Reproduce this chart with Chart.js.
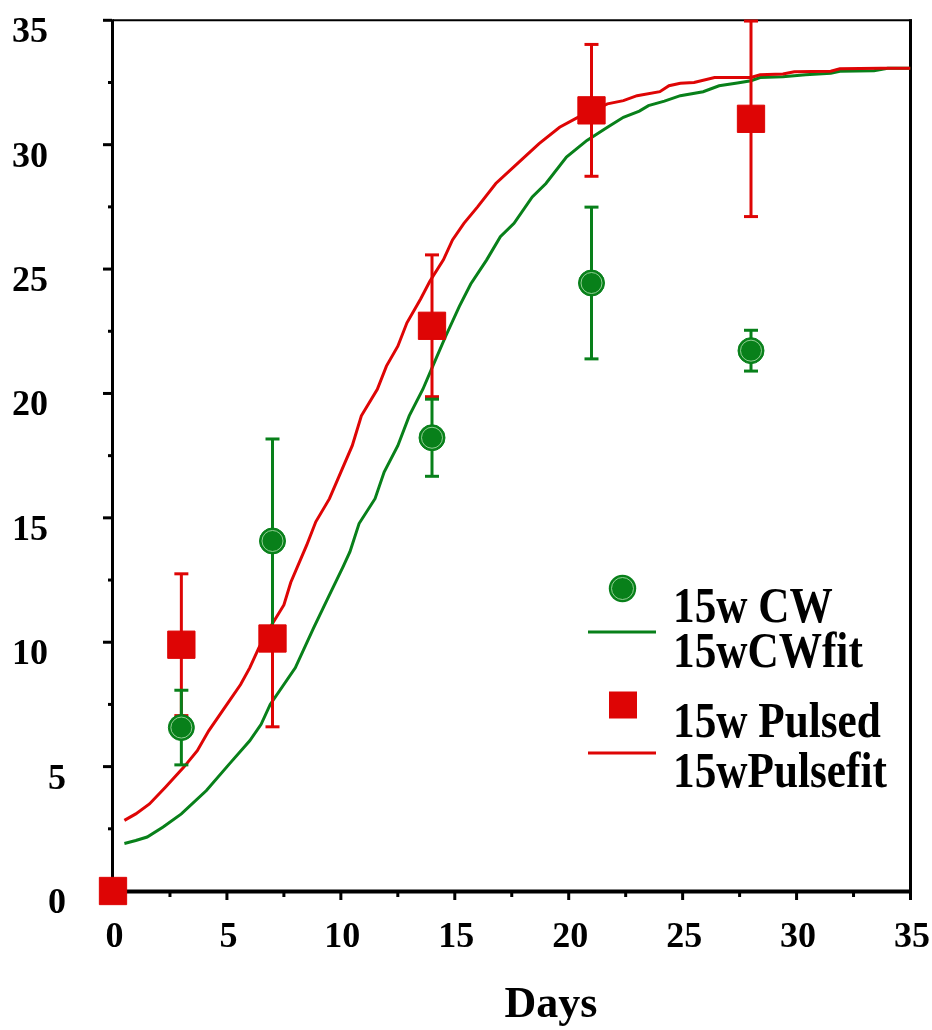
<!DOCTYPE html>
<html><head><meta charset="utf-8">
<script src="https://cdn.jsdelivr.net/npm/chart.js@4.4.1/dist/chart.umd.min.js"></script>
<style>html,body{margin:0;padding:0;background:#fff}canvas{display:block}</style>
</head><body>
<canvas id="c" width="932" height="1030" style="width:932px;height:1030px"></canvas>
<script>
// ---- data ----
const cwDays = [3, 7, 14, 21, 28];
const cwMean = [6.57, 14.07, 18.22, 24.44, 21.72];
const cwErr = [1.5, 4.1, 1.55, 3.05, 0.82];

const pulsedDays = [0, 3, 7, 14, 21, 28];
const pulsedMean = [0, 9.9, 10.15, 22.72, 31.38, 31.04];
const pulsedErr = [0, 2.85, 3.55, 2.85, 2.65, 3.93];

const cwFitX = [0.5,1.0,1.5,2.2,3.0,4.1,5.1,6.0,6.5,6.9,8.0,8.8,9.5,10.1,10.4,10.8,11.5,11.9,12.5,13.0,13.6,14.1,14.6,15.2,15.7,16.4,17.0,17.6,18.4,19.0,19.9,20.8,21.7,22.4,23.1,23.5,24.2,24.9,25.9,26.6,27.4,28.0,28.4,29.4,30.4,31.5,31.9,33.4,34.0,35.0];
const cwFitY = [1.91,2.03,2.17,2.57,3.1,4.04,5.1,6.04,6.7,7.5,8.97,10.57,11.9,13.04,13.64,14.77,15.77,16.84,17.9,19.1,20.17,21.24,22.3,23.5,24.4,25.37,26.3,26.84,27.9,28.44,29.5,30.17,30.7,31.1,31.35,31.57,31.75,31.97,32.13,32.37,32.48,32.57,32.7,32.73,32.81,32.87,32.95,32.97,33.07,33.07];

const pulseFitX = [0.5,1.0,1.6,2.3,3.1,3.7,4.2,5.0,5.6,6.0,6.4,6.9,7.5,7.8,8.5,8.9,9.5,10.0,10.5,10.9,11.6,12.0,12.5,12.9,13.5,13.9,14.5,14.9,15.4,16.0,16.8,17.9,18.7,19.6,20.4,21.7,22.4,23.0,24.0,24.4,24.9,25.5,26.4,28.0,28.4,29.4,29.9,31.5,31.9,33.7,35.0];
const pulseFitY = [2.84,3.1,3.5,4.17,4.97,5.64,6.44,7.5,8.3,8.97,9.77,10.6,11.5,12.4,13.9,14.84,15.77,16.84,17.9,19.1,20.17,21.1,21.9,22.84,23.8,24.5,25.37,26.17,26.84,27.5,28.44,29.37,30.04,30.7,31.1,31.64,31.77,31.97,32.13,32.37,32.47,32.5,32.7,32.7,32.81,32.84,32.93,32.95,33.05,33.07,33.07];

const xTickLabels = [0, 5, 10, 15, 20, 25, 30, 35];
const yTickLabels = [0, 5, 10, 15, 20, 25, 30, 35];
const legendLabels = ['15w CW', '15wCWfit', '15w Pulsed', '15wPulsefit'];
const xAxisTitle = 'Days';

// ---- styles ----
const GREEN = '#08801a';
const RED = '#de0505';
const FONT = '"Liberation Serif", "Times New Roman", serif';

const toXY = (xs, ys) => xs.map((v, i) => ({x: v, y: ys[i]}));

const decoPlugin = {
  id: 'deco',
  beforeDatasetsDraw(chart) {
    const {ctx, scales: {x, y}} = chart;
    const x0 = x.getPixelForValue(0), x35 = x.getPixelForValue(35);
    const y0 = y.getPixelForValue(0), y35 = y.getPixelForValue(35);
    ctx.save();
    ctx.strokeStyle = '#000';
    ctx.lineCap = 'butt';
    // frame
    ctx.lineWidth = 2;
    ctx.beginPath(); ctx.moveTo(x0, y35); ctx.lineTo(x35 + 1.5, y35); ctx.stroke();
    ctx.lineWidth = 3;
    ctx.beginPath(); ctx.moveTo(x35, y35 - 1); ctx.lineTo(x35, y0); ctx.stroke();
    ctx.beginPath(); ctx.moveTo(x0 - 0.5, y35 - 1); ctx.lineTo(x0 - 0.5, y0 + 2); ctx.stroke();
    ctx.lineWidth = 4;
    ctx.beginPath(); ctx.moveTo(x0 - 2, y0 + 0.5); ctx.lineTo(x35 + 1.5, y0 + 0.5); ctx.stroke();
    // ticks
    ctx.lineWidth = 3;
    for (let v = 0; v <= 35.001; v += 2.5) {
      const major = Math.abs(v / 5 - Math.round(v / 5)) < 1e-6;
      const py = y.getPixelForValue(v);
      ctx.beginPath(); ctx.moveTo(x0 - 1, py); ctx.lineTo(x0 - (major ? 10 : 5), py); ctx.stroke();
      if (v > 0) {
        const px = x.getPixelForValue(v);
        ctx.beginPath(); ctx.moveTo(px, y0); ctx.lineTo(px, y0 + (major ? 9 : 6)); ctx.stroke();
      }
    }
    ctx.restore();
  },
  afterDatasetDraw(chart, args) {
    if (args.index !== 1) return; // draw error bars right after the fitted curves
    const {ctx, scales: {x, y}} = chart;
    const bars = (days, mean, err, color) => {
      ctx.strokeStyle = color;
      ctx.lineWidth = 3;
      days.forEach((d, i) => {
        if (!err[i]) return;
        const px = x.getPixelForValue(d);
        const pt = y.getPixelForValue(mean[i] + err[i]);
        const pb = y.getPixelForValue(mean[i] - err[i]);
        ctx.beginPath(); ctx.moveTo(px, pt); ctx.lineTo(px, pb); ctx.stroke();
        ctx.beginPath(); ctx.moveTo(px - 7, pt); ctx.lineTo(px + 7, pt); ctx.stroke();
        ctx.beginPath(); ctx.moveTo(px - 7, pb); ctx.lineTo(px + 7, pb); ctx.stroke();
      });
    };
    ctx.save();
    bars(pulsedDays, pulsedMean, pulsedErr, RED);
    bars(cwDays, cwMean, cwErr, GREEN);
    ctx.restore();
  },
  afterDraw(chart) {
    const {ctx, scales: {x, y}} = chart;
    const x0 = x.getPixelForValue(0), y0 = y.getPixelForValue(0);
    ctx.save();
    ctx.fillStyle = '#000';
    ctx.font = 'bold 36px ' + FONT;
    ctx.textBaseline = 'alphabetic';
    // y tick labels
    ctx.textAlign = 'right';
    yTickLabels.forEach(v => {
      const s = String(v);
      const py = y.getPixelForValue(v) + 22;
      ctx.fillText(s, s.length > 1 ? x0 - 65 : x0 - 47, py);
    });
    // x tick labels
    ctx.textAlign = 'center';
    xTickLabels.forEach(v => {
      ctx.fillText(String(v), x.getPixelForValue(v) + 1.5, y0 + 56);
    });
    // axis title
    ctx.font = 'bold 44px ' + FONT;
    ctx.fillText(xAxisTitle, 551, 1017);

    // legend
    const lx = 673;
    const drawText = (t, bx, by) => {
      ctx.save();
      ctx.translate(bx, by);
      ctx.scale(0.865, 1);
      ctx.textAlign = 'left';
      ctx.font = 'bold 50px ' + FONT;
      ctx.fillText(t, 0, 0);
      ctx.restore();
    };
    // circle
    ctx.fillStyle = GREEN;
    ctx.beginPath(); ctx.arc(622.5, 588.5, 13.7, 0, Math.PI * 2); ctx.fill();
    ctx.strokeStyle = 'rgba(160,215,160,0.9)'; ctx.lineWidth = 1;
    ctx.beginPath(); ctx.arc(622.5, 588.5, 11, 0, Math.PI * 2); ctx.stroke();
    ctx.strokeStyle = GREEN; ctx.lineWidth = 3;
    ctx.beginPath(); ctx.moveTo(588, 632); ctx.lineTo(656, 632); ctx.stroke();
    ctx.fillStyle = RED;
    ctx.fillRect(609, 691.5, 28, 27);
    ctx.strokeStyle = RED; ctx.lineWidth = 3;
    ctx.beginPath(); ctx.moveTo(588, 753); ctx.lineTo(656, 753); ctx.stroke();
    ctx.fillStyle = '#000';
    drawText(legendLabels[0], lx, 622);
    drawText(legendLabels[1], lx, 667);
    drawText(legendLabels[2], lx, 737);
    drawText(legendLabels[3], lx, 787);
    ctx.restore();
  }
};

new Chart(document.getElementById('c'), {
  type: 'scatter',
  data: {
    datasets: [
      { label: legendLabels[1], data: toXY(cwFitX, cwFitY), showLine: true, borderColor: GREEN, borderWidth: 3, pointRadius: 0, tension: 0, order: 10 },
      { label: legendLabels[3], data: toXY(pulseFitX, pulseFitY), showLine: true, borderColor: RED, borderWidth: 3, pointRadius: 0, tension: 0, order: 9 },
      { label: legendLabels[0], data: toXY(cwDays, cwMean), pointStyle: 'circle', pointRadius: 13, backgroundColor: GREEN, borderColor: GREEN, borderWidth: 1, clip: false, order: 3 },
      { label: 'ring', data: toXY(cwDays, cwMean), pointStyle: 'circle', pointRadius: 10.5, backgroundColor: 'rgba(0,0,0,0)', borderColor: 'rgba(160,215,160,0.9)', borderWidth: 1, clip: false, order: 2 },
      { label: legendLabels[2], data: toXY(pulsedDays, pulsedMean), pointStyle: 'rect', pointRadius: 19.3, backgroundColor: RED, borderColor: RED, borderWidth: 1, clip: false, order: 1 }
    ]
  },
  options: {
    responsive: false,
    animation: false,
    events: [],
    devicePixelRatio: 1,
    layout: { padding: { left: 113, right: 21.5, top: 16, bottom: 139 } },
    scales: {
      x: { type: 'linear', min: 0, max: 35, display: false },
      y: { type: 'linear', min: 0, max: 35, display: false }
    },
    plugins: { legend: { display: false }, tooltip: { enabled: false } }
  },
  plugins: [decoPlugin]
});
</script>
</body></html>
